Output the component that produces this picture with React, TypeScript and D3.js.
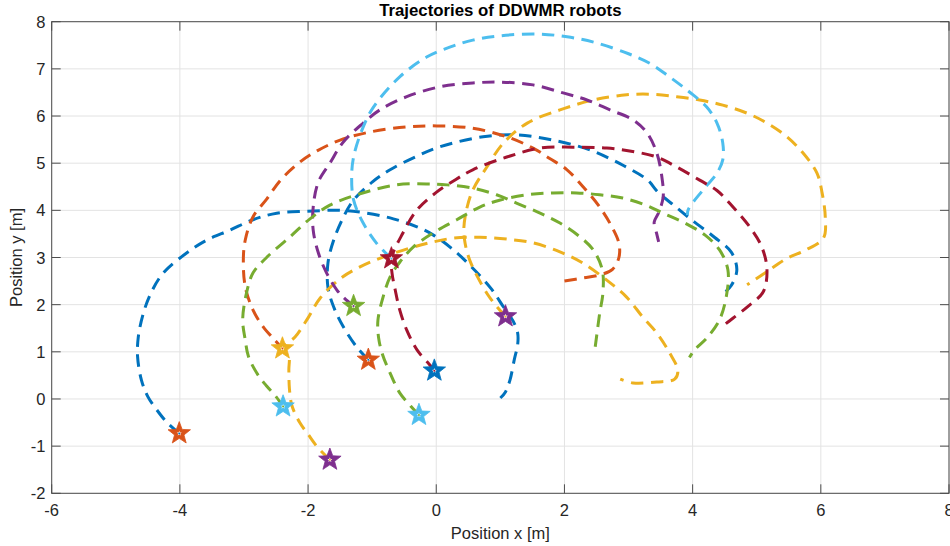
import React from "react";
import * as d3 from "d3";

type Pt = [number, number];

const xTicks = [-6, -4, -2, 0, 2, 4, 6, 8];
const yTicks = [-2, -1, 0, 1, 2, 3, 4, 5, 6, 7, 8];

const blueA: Pt[] = [[-4.01,-0.73],[-4.2,-0.5],[-4.35,-0.25],[-4.5,0.05],[-4.6,0.4],[-4.66,0.9],[-4.65,1.3],[-4.57,1.82],[-4.45,2.25],[-4.26,2.67],[-3.89,3.1],[-3.58,3.37],[-3.22,3.58],[-2.86,3.8],[-2.49,3.94],[-2.02,3.98],[-1.5,4.0],[-1.08,3.94],[-0.67,3.82],[-0.3,3.65],[-0.05,3.48],[0.27,3.16],[0.55,2.8],[0.85,2.35],[1.05,1.95],[1.2,1.65],[1.27,1.4],[1.27,1.15],[1.22,0.85],[1.15,0.4],[1.08,0.15],[1.0,0.02]];
const blueB: Pt[] = [[-1.06,0.83],[-1.24,1.1],[-1.45,1.53],[-1.6,1.95],[-1.69,2.37],[-1.69,2.88],[-1.6,3.37],[-1.45,3.85],[-1.3,4.2],[-1.0,4.6],[-0.72,4.86],[-0.3,5.15],[0.06,5.35],[0.73,5.56],[1.26,5.6],[1.82,5.49],[2.4,5.28],[2.92,4.95],[3.3,4.64],[3.45,4.4],[3.74,4.07],[4.03,3.75],[4.34,3.43],[4.6,3.12],[4.69,2.74],[4.6,2.4],[4.45,2.2]];
const orange: Pt[] = [[2.0,2.5],[2.3,2.57],[2.55,2.63],[2.75,2.75],[2.85,3.0],[2.85,3.3],[2.74,3.65],[2.55,4.07],[2.29,4.5],[2.04,4.86],[1.77,5.1],[1.51,5.32],[1.1,5.56],[0.57,5.74],[0.01,5.79],[-0.46,5.77],[-1.04,5.66],[-1.5,5.49],[-1.86,5.26],[-2.15,5.0],[-2.43,4.64],[-2.64,4.25],[-2.86,3.86],[-2.98,3.37],[-3.01,2.95],[-2.98,2.38],[-2.86,1.89],[-2.7,1.53],[-2.54,1.28],[-2.4,1.07]];
const yellowA: Pt[] = [[-1.66,-1.29],[-1.86,-1.01],[-2.0,-0.75],[-2.13,-0.5],[-2.25,-0.15],[-2.29,0.2],[-2.3,0.62],[-2.3,0.9],[-2.4,1.07],[-2.2,1.32],[-2.0,1.72],[-1.81,2.14],[-1.5,2.55],[-1.19,2.8],[-0.83,3.01],[-0.41,3.2],[-0.05,3.33],[0.27,3.41],[0.68,3.43],[1.1,3.39],[1.51,3.31],[1.93,3.12],[2.29,2.88],[2.66,2.52],[2.97,2.16],[3.22,1.74],[3.44,1.4],[3.64,0.98],[3.77,0.6],[3.72,0.42],[3.44,0.36],[3.07,0.34],[2.87,0.42]];
const yellowB: Pt[] = [[1.08,1.75],[0.92,2.0],[0.81,2.2],[0.64,2.6],[0.52,2.95],[0.45,3.3],[0.43,3.6],[0.47,4.0],[0.57,4.43],[0.79,4.92],[1.05,5.43],[1.42,5.85],[1.93,6.13],[2.45,6.34],[2.97,6.45],[3.38,6.46],[3.75,6.41],[4.11,6.34],[4.47,6.23],[4.85,6.06],[5.16,5.85],[5.47,5.56],[5.72,5.22],[5.94,4.79],[6.02,4.37],[6.07,3.84],[6.04,3.41],[5.75,3.15],[5.47,2.98],[5.16,2.7],[4.85,2.42]];
const purple: Pt[] = [[-1.29,1.97],[-1.45,2.16],[-1.55,2.31],[-1.71,2.67],[-1.84,3.1],[-1.92,3.58],[-1.92,4.07],[-1.84,4.6],[-1.66,5.0],[-1.45,5.45],[-1.14,5.85],[-0.88,6.13],[-0.46,6.41],[0.06,6.62],[0.57,6.7],[0.99,6.72],[1.51,6.66],[1.98,6.49],[2.35,6.34],[2.71,6.13],[3.07,5.92],[3.29,5.64],[3.44,5.22],[3.52,4.71],[3.54,4.28],[3.47,3.95],[3.4,3.75],[3.44,3.5],[3.47,3.33]];
const greenA: Pt[] = [[-0.27,-0.34],[-0.4,-0.15],[-0.57,0.13],[-0.72,0.55],[-0.84,0.95],[-0.9,1.3],[-0.91,1.67],[-0.83,2.16],[-0.72,2.59],[-0.57,2.9],[-0.36,3.22],[-0.05,3.52],[0.32,3.8],[0.68,4.07],[1.0,4.22],[1.42,4.33],[1.82,4.37],[2.19,4.37],[2.55,4.33],[2.91,4.26],[3.25,4.12],[3.54,3.94],[3.88,3.73],[4.19,3.48],[4.42,3.16],[4.55,2.74],[4.53,2.21],[4.42,1.68],[4.22,1.29],[4.03,1.04],[3.95,0.88]];
const greenB: Pt[] = [[-2.39,-0.16],[-2.5,0.05],[-2.65,0.28],[-2.8,0.55],[-2.93,0.9],[-2.98,1.25],[-3.02,1.68],[-2.96,2.25],[-2.86,2.67],[-2.64,3.01],[-2.28,3.44],[-1.97,3.82],[-1.66,4.11],[-1.24,4.33],[-0.62,4.54],[-0.15,4.56],[0.17,4.54],[0.57,4.47],[0.94,4.33],[1.26,4.15],[1.62,3.94],[1.93,3.73],[2.24,3.44],[2.45,3.16],[2.59,2.74],[2.6,2.25],[2.55,1.82],[2.5,1.31],[2.47,1.0]];
const cyan: Pt[] = [[-0.7,2.98],[-0.93,3.3],[-1.14,3.73],[-1.29,4.22],[-1.32,4.71],[-1.29,5.13],[-1.16,5.7],[-0.98,6.19],[-0.57,6.83],[-0.15,7.25],[0.21,7.46],[0.57,7.61],[0.99,7.7],[1.57,7.74],[2.04,7.68],[2.5,7.55],[3.0,7.32],[3.33,7.12],[3.64,6.83],[3.95,6.51],[4.22,6.19],[4.38,5.85],[4.47,5.43],[4.47,5.07],[4.38,4.79],[4.16,4.43],[3.93,4.01],[3.92,3.9]];
const red: Pt[] = [[-0.03,0.6],[-0.1,0.72],[-0.3,1.04],[-0.46,1.46],[-0.57,1.89],[-0.64,2.31],[-0.69,2.67],[-0.7,2.98],[-0.52,3.52],[-0.3,4.01],[0.0,4.38],[0.3,4.65],[0.57,4.86],[1.1,5.13],[1.62,5.32],[2.13,5.34],[2.66,5.32],[3.1,5.24],[3.44,5.13],[3.75,4.92],[4.11,4.64],[4.38,4.42],[4.63,4.07],[4.89,3.65],[5.08,3.22],[5.16,2.74],[5.1,2.27],[4.85,1.95],[4.53,1.61],[4.45,1.52]];

const lineData: Pt[][] = [blueA, blueB, orange, yellowA, yellowB, purple, greenA, greenB, cyan, red];
const lineColors = ["#0072BD", "#0072BD", "#D95319", "#EDB120", "#EDB120", "#7E2F8E", "#77AC30", "#77AC30", "#4DBEEE", "#A2142F"];

const starX = [-4.01, -2.4, -2.39, -1.66, -1.29, -1.06, -0.7, -0.03, -0.27, 1.08];
const starY = [-0.73, 1.07, -0.16, -1.29, 1.97, 0.83, 2.98, 0.6, -0.34, 1.75];
const starColors = ["#D95319", "#EDB120", "#4DBEEE", "#7E2F8E", "#77AC30", "#D95319", "#A2142F", "#0072BD", "#4DBEEE", "#7E2F8E"];
const starDotColors = ["#0072BD", "#D95319", "#77AC30", "#EDB120", "#7E2F8E", "#0072BD", "#4DBEEE", "#A2142F", "#77AC30", "#EDB120"];

const W = 950;
const H = 546;
const L = 51.7, R = 949, T = 21.7, B = 493.3;
const FONT = "'Liberation Sans', Arial, Helvetica, sans-serif";

function starPath(outer: number, ratio: number): string {
  const pts = d3.range(10).map((k) => {
    const a = -Math.PI / 2 + (k * Math.PI) / 5;
    const rr = k % 2 === 0 ? outer : outer * ratio;
    return [rr * Math.cos(a), rr * Math.sin(a)] as [number, number];
  });
  return "M" + pts.map((p) => p[0].toFixed(2) + "," + p[1].toFixed(2)).join("L") + "Z";
}

export default function App() {
  const x = d3.scaleLinear().domain([-6, 8]).range([L, R]);
  const y = d3.scaleLinear().domain([-2, 8]).range([B, T]);
  const line = d3.line<Pt>().x((d) => x(d[0])).y((d) => y(d[1])).curve(d3.curveCatmullRom.alpha(0.5));
  const bigStar = starPath(11.8, 0.42);
  const smallStar = starPath(2.6, 0.42);
  const axisColor = "#4d4d4d";
  const textColor = "#262626";
  return (
    <svg width={W} height={H} style={{ position: "absolute", left: 0, top: 0, background: "#fff" }}>
      <rect x={0} y={0} width={W} height={H} fill="#fff" />
      {xTicks.map((t) => (
        <line key={"gx" + t} x1={x(t)} x2={x(t)} y1={T} y2={B} stroke="#e3e3e3" strokeWidth={1} />
      ))}
      {yTicks.map((t) => (
        <line key={"gy" + t} x1={L} x2={R} y1={y(t)} y2={y(t)} stroke="#e3e3e3" strokeWidth={1} />
      ))}
      {lineData.map((pts, i) => (
        <path key={"l" + i} d={line(pts) || ""} fill="none" stroke={lineColors[i]} strokeWidth={3} strokeDasharray="12.5 7.5" />
      ))}
      {starX.map((sx, i) => (
        <g key={"s" + i} transform={`translate(${x(sx)},${y(starY[i])})`}>
          <path d={bigStar} fill={starColors[i]} stroke={starColors[i]} strokeWidth={0.8} />
          <path d={smallStar} fill="#fff" />
          <circle r={1} fill={starDotColors[i]} />
        </g>
      ))}
      <rect x={L} y={T} width={R - L} height={B - T} fill="none" stroke={axisColor} strokeWidth={1} />
      {xTicks.map((t) => (
        <g key={"tx" + t}>
          <line x1={x(t)} x2={x(t)} y1={B} y2={B - 9} stroke={axisColor} />
          <line x1={x(t)} x2={x(t)} y1={T} y2={T + 9} stroke={axisColor} />
          <text x={x(t)} y={B + 22.5} textAnchor="middle" fontFamily={FONT} fontSize={16.5} fill={textColor}>{t}</text>
        </g>
      ))}
      {yTicks.map((t) => (
        <g key={"ty" + t}>
          <line x1={L} x2={L + 9} y1={y(t)} y2={y(t)} stroke={axisColor} />
          <line x1={R} x2={R - 9} y1={y(t)} y2={y(t)} stroke={axisColor} />
          <text x={45.5} y={y(t) + 6} textAnchor="end" fontFamily={FONT} fontSize={16.5} fill={textColor}>{t}</text>
        </g>
      ))}
      <text x={(L + R) / 2} y={16} textAnchor="middle" fontFamily={FONT} fontSize={16.8} fontWeight="bold" fill="#000">Trajectories of DDWMR robots</text>
      <text x={(L + R) / 2} y={538.5} textAnchor="middle" fontFamily={FONT} fontSize={16.5} fill={textColor}>Position x [m]</text>
      <text transform={`translate(22,${(T + B) / 2}) rotate(-90)`} textAnchor="middle" fontFamily={FONT} fontSize={16.5} fill={textColor}>Position y [m]</text>
    </svg>
  );
}
